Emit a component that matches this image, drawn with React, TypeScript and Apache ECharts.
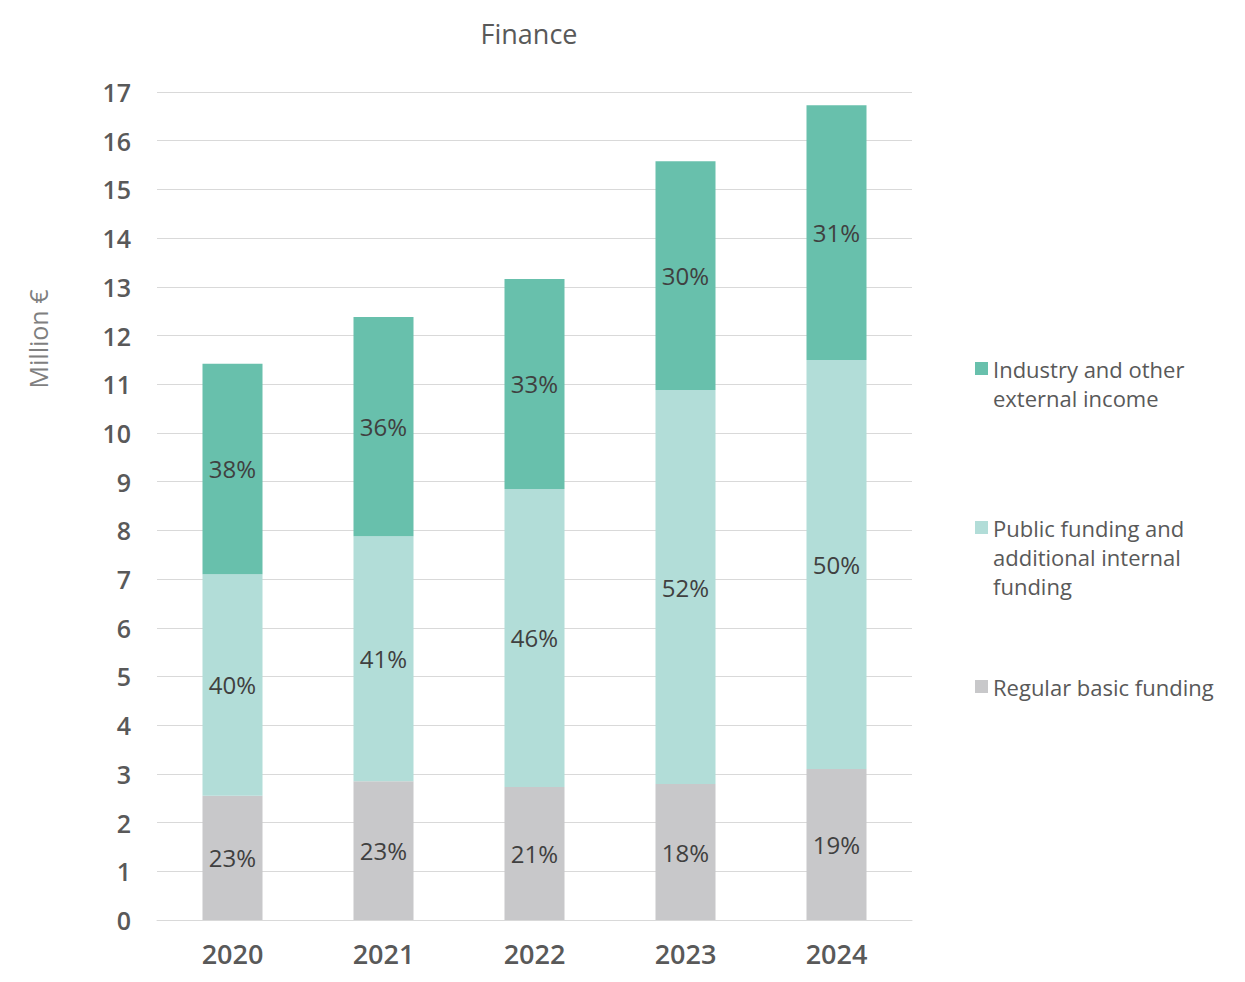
import React, { useEffect, useRef } from "react";
import * as echarts from "echarts";

const categories = ["2020", "2021", "2022", "2023", "2024"];
const regularBasic = [2.55, 2.85, 2.73, 2.79, 3.1];
const publicFunding = [4.55, 5.03, 6.12, 8.09, 8.4];
const industryIncome = [4.32, 4.5, 4.31, 4.7, 5.23];
const regularPct = ["23%", "23%", "21%", "18%", "19%"];
const publicPct = ["40%", "41%", "46%", "52%", "50%"];
const industryPct = ["38%", "36%", "33%", "30%", "31%"];
const seriesNames = [
  "Industry and other external income",
  "Public funding and additional internal funding",
  "Regular basic funding",
];
const legendLines = [
  ["Industry and other", "external income"],
  ["Public funding and", "additional internal", "funding"],
  ["Regular basic funding"],
];

const FONT = "'Open Sans', 'Noto Sans', sans-serif";
const colors = ["#68C0AC", "#B2DDD8", "#C8C8CA"];

export default function App() {
  const ref = useRef<HTMLDivElement>(null);
  useEffect(() => {
    document.body.style.margin = "0";
    const chart = echarts.init(ref.current!, null, { renderer: "svg" });
    const mkLabel = (labels: string[]) => ({
      show: true,
      position: "inside",
      formatter: (p: any) => labels[p.dataIndex],
      color: "#404040",
      fontSize: 24,
      fontFamily: FONT,
    });
    const LH = 29;
    const firstLineCenters = [368, 527, 686];
    chart.setOption({
      animation: false,
      title: {
        text: "Finance",
        left: 524,
        top: 15,
        textAlign: "center",
        textStyle: { fontFamily: FONT, fontSize: 27, fontWeight: "normal", color: "#595959" },
      },
      legend: seriesNames.map((n, i) => {
        const lines = legendLines[i];
        const blanks = lines.length - 1;
        const text = "\n".repeat(blanks) + lines.join("\n");
        const total = lines.length + blanks;
        return {
          data: [n],
          left: 975,
          top: Math.round(firstLineCenters[i] - (total * LH) / 2),
          padding: 0,
          icon: "rect",
          itemWidth: 13,
          itemHeight: 13,
          formatter: () => (blanks > 0 ? " " + text : text),
          selectedMode: false,
          textStyle: {
            fontFamily: FONT,
            fontSize: 22,
            color: "#595959",
            lineHeight: LH,
          },
        };
      }),
      grid: { left: 157, right: 333, top: 92, bottom: 62 },
      xAxis: {
        type: "category",
        data: categories,
        axisTick: { show: false },
        axisLine: { lineStyle: { color: "#D9D9D9" } },
        axisLabel: {
          margin: 20,
          fontFamily: FONT,
          fontSize: 27,
          fontWeight: 600,
          color: "#595959",
        },
      },
      yAxis: {
        type: "value",
        min: 0,
        max: 17,
        interval: 1,
        splitLine: { lineStyle: { color: "#D9D9D9" } },
        axisLabel: {
          margin: 26,
          fontFamily: FONT,
          fontSize: 25,
          fontWeight: 600,
          color: "#595959",
          padding: [0, 0, 3, 0],
        },
      },
      graphic: [
        {
          type: "text",
          x: 38,
          y: 339,
          rotation: Math.PI / 2,
          style: {
            text: "Million €",
            fontFamily: FONT,
            fontSize: 25,
            fill: "#7F7F7F",
            align: "center",
            verticalAlign: "middle",
          },
        },
      ],
      series: [
        {
          name: seriesNames[2],
          type: "bar",
          stack: "total",
          barWidth: 60,
          data: regularBasic,
          itemStyle: { color: colors[2] },
          label: mkLabel(regularPct),
        },
        {
          name: seriesNames[1],
          type: "bar",
          stack: "total",
          barWidth: 60,
          data: publicFunding,
          itemStyle: { color: colors[1] },
          label: mkLabel(publicPct),
        },
        {
          name: seriesNames[0],
          type: "bar",
          stack: "total",
          barWidth: 60,
          data: industryIncome,
          itemStyle: { color: colors[0] },
          label: mkLabel(industryPct),
        },
      ],
    });
    return () => chart.dispose();
  }, []);
  return <div ref={ref} style={{ width: 1245, height: 982 }} />;
}
